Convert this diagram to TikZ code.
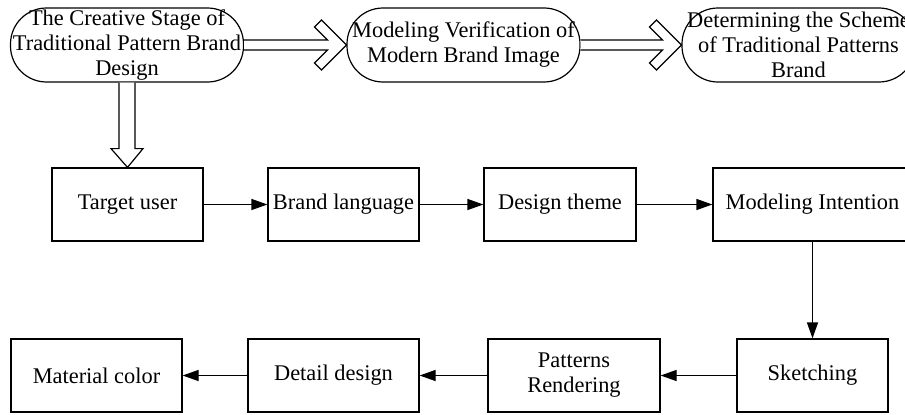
\documentclass[tikz,border=0pt]{standalone}
\usepackage{fontspec}
\setmainfont{Liberation Serif}
\usetikzlibrary{arrows.meta,calc}
\begin{document}
\begin{tikzpicture}[x=1pt,y=-1pt,
  every node/.style={font=\fontsize{22.4}{25}\selectfont, align=center, inner sep=0pt},
  stage/.style={draw, line width=1.2pt, rounded corners=36pt, minimum width=233pt, minimum height=74pt},
  stepbox/.style={draw, line width=1.2pt, minimum height=73pt},
  flow/.style={line width=1.2pt, -{Triangle[length=16pt,width=11pt]}},
  hollow/.style={draw, line width=1.2pt, fill=white, line join=miter}]
\useasboundingbox (0,0) rectangle (905,415);

% stages of the design process
\node[stage] (s1) at (127,45) {The Creative Stage of\\Traditional Pattern Brand\\Design};
\node[stage] (s2) at (463.5,45) {Modeling Verification of\\Modern Brand Image};
\node[stage] (s3) at (798.5,45) {Determining the Scheme\\of Traditional Patterns\\Brand};

% creative steps, first row
\node[stepbox, minimum width=151pt] (t1) at (127.5,204.5) {Target user};
\node[stepbox, minimum width=151pt] (t2) at (343.5,204.5) {Brand language};
\node[stepbox, minimum width=152pt] (t3) at (560,204.5) {Design theme};
\node[stepbox, minimum width=199pt] (t4) at (812.5,204.5) {Modeling Intention};

% creative steps, second row
\node[stepbox, minimum width=151pt] (b1) at (812.5,375.5) {Sketching};
\node[stepbox, minimum width=172pt] (b2) at (574,375.5) {Patterns\\Rendering};
\node[stepbox, minimum width=171pt] (b3) at (333.5,375.5) {Detail design};
\node[stepbox, minimum width=171pt] (b4) at (96.5,375.5) {Material color};

% hollow arrows between stages
\foreach \a/\b in {s1/s2, s2/s3} {
  \draw[hollow] ($(\a.east)+(0,-5)$) -- ($(\b.west)+(-19,-5)$)
    -- ($(\b.west)+(-32,-18)$) -- ($(\b.west)+(-25,-25)$) -- (\b.west)
    -- ($(\b.west)+(-25,25)$) -- ($(\b.west)+(-32,18)$)
    -- ($(\b.west)+(-19,5)$) -- ($(\a.east)+(0,5)$);
}
\draw[hollow] ($(s1.south)+(-8,0)$) -- ($(s1.south)+(-8,66)$)
  -- ($(s1.south)+(-16,66)$) -- (t1.north) -- ($(s1.south)+(16,66)$)
  -- ($(s1.south)+(8,66)$) -- ($(s1.south)+(8,0)$);

% flow between steps
\draw[flow] (t1) -- (t2);
\draw[flow] (t2) -- (t3);
\draw[flow] (t3) -- (t4);
\draw[flow] (t4) -- (b1);
\draw[flow] (b1) -- (b2);
\draw[flow] (b2) -- (b3);
\draw[flow] (b3) -- (b4);
\end{tikzpicture}
\end{document}
